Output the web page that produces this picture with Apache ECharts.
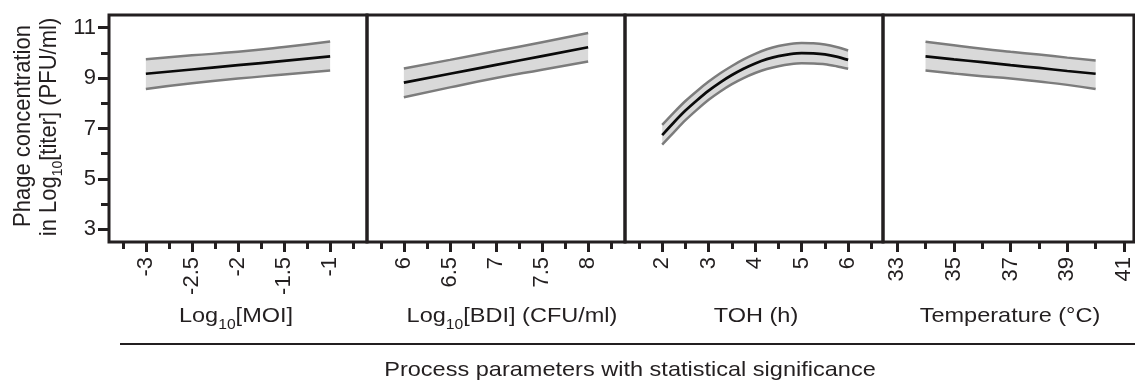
<!DOCTYPE html>
<html><head><meta charset="utf-8">
<script src="https://cdn.jsdelivr.net/npm/echarts@6/dist/echarts.min.js"></script>
<style>html,body{margin:0;padding:0;background:#fff}#c{width:1135px;height:380px}</style>
</head><body><div id="c"></div>
<script>
// ---------- data ----------
const yTicks = [3, 5, 7, 9, 11];
const yMinor = [4, 6, 8, 10];

const moiX = [-3, -2.5, -2, -1.5, -1];
const moiMean = [9.17, 9.34, 9.51, 9.68, 9.86];
const moiUpper = [9.75, 9.90, 10.04, 10.23, 10.45];
const moiLower = [8.57, 8.79, 8.98, 9.14, 9.30];
const moiTicks = [-3, -2.5, -2, -1.5, -1];
const moiMinor = [-3.25, -2.75, -2.25, -1.75, -1.25, -0.75];

const bdiX = [6, 6.5, 7, 7.5, 8];
const bdiMean = [8.82, 9.17, 9.52, 9.87, 10.22];
const bdiUpper = [9.38, 9.72, 10.07, 10.42, 10.79];
const bdiLower = [8.24, 8.63, 9.00, 9.33, 9.66];
const bdiTicks = [6, 6.5, 7, 7.5, 8];
const bdiMinor = [5.75, 6.25, 6.75, 7.25, 7.75, 8.25];

const tohX = [2, 2.25, 2.5, 2.75, 3, 3.25, 3.5, 3.75, 4, 4.25, 4.5, 4.75, 5, 5.25, 5.5, 5.75, 6];
const tohMean = [6.74, 7.24, 7.71, 8.12, 8.50, 8.83, 9.12, 9.37, 9.58, 9.75, 9.87, 9.95, 9.99, 9.98, 9.94, 9.85, 9.72];
const tohUpper = [7.14, 7.63, 8.09, 8.49, 8.86, 9.19, 9.48, 9.74, 9.96, 10.14, 10.27, 10.35, 10.39, 10.38, 10.33, 10.23, 10.09];
const tohLower = [6.36, 6.85, 7.33, 7.75, 8.14, 8.47, 8.76, 9.00, 9.20, 9.36, 9.47, 9.55, 9.59, 9.58, 9.55, 9.47, 9.37];
const tohTicks = [2, 3, 4, 5, 6];
const tohMinor = [1.5, 2.5, 3.5, 4.5, 5.5, 6.5];

const tempX = [34, 35, 36, 37, 38, 39, 40];
const tempMean = [9.86, 9.74, 9.63, 9.51, 9.40, 9.28, 9.17];
const tempUpper = [10.44, 10.30, 10.16, 10.04, 9.93, 9.81, 9.70];
const tempLower = [9.30, 9.18, 9.07, 8.98, 8.86, 8.73, 8.57];
const tempTicks = [33, 35, 37, 39, 41];
const tempMinor = [34, 36, 38, 40];

// ---------- chart ----------
const FONT = "'Liberation Sans', Arial, Helvetica, sans-serif";
const INK = '#231f20';
const panels = [
  {x: moiX, mean: moiMean, up: moiUpper, lo: moiLower, min: -3.4, max: -0.6, major: moiTicks, minor: moiMinor, smooth: true},
  {x: bdiX, mean: bdiMean, up: bdiUpper, lo: bdiLower, min: 5.6, max: 8.4, major: bdiTicks, minor: bdiMinor, smooth: true},
  {x: tohX, mean: tohMean, up: tohUpper, lo: tohLower, min: 1.2, max: 6.75, major: tohTicks, minor: tohMinor, smooth: 0.3},
  {x: tempX, mean: tempMean, up: tempUpper, lo: tempLower, min: 32.5, max: 41.35, major: tempTicks, minor: tempMinor, smooth: true}
];
const gridLeft = [109, 367, 625, 883];

const grid = gridLeft.map(l => ({left: l, top: 15, width: 258, height: 227, show: true,
  borderColor: INK, borderWidth: 3, backgroundColor: 'transparent'}));

const tickStyle = {color: INK, width: 3};
const xAxis = [];
panels.forEach((p, i) => {
  xAxis.push({gridIndex: i, type: 'value', position: 'bottom', min: p.min, max: p.max,
    axisLine: {show: false}, splitLine: {show: false},
    axisTick: {show: true, customValues: p.major, length: 10, lineStyle: tickStyle},
    axisLabel: {show: true, customValues: p.major, rotate: 90, margin: 15, fontSize: 22,
      fontFamily: FONT, color: INK}});
  xAxis.push({gridIndex: i, type: 'value', position: 'bottom', min: p.min, max: p.max,
    axisLine: {show: false}, splitLine: {show: false},
    axisTick: {show: true, customValues: p.minor, length: 7, lineStyle: tickStyle},
    axisLabel: {show: false}});
});

const yAxis = [
  {gridIndex: 0, type: 'value', position: 'left', min: 2.5, max: 11.5,
    axisLine: {show: false}, splitLine: {show: false},
    axisTick: {show: true, customValues: yTicks, length: 11, lineStyle: tickStyle},
    axisLabel: {show: true, customValues: yTicks, margin: 13, fontSize: 22, fontFamily: FONT, color: INK}},
  {gridIndex: 0, type: 'value', position: 'left', min: 2.5, max: 11.5,
    axisLine: {show: false}, splitLine: {show: false},
    axisTick: {show: true, customValues: yMinor, length: 8, lineStyle: tickStyle},
    axisLabel: {show: false}},
  {gridIndex: 1, type: 'value', min: 2.5, max: 11.5, show: false},
  {gridIndex: 2, type: 'value', min: 2.5, max: 11.5, show: false},
  {gridIndex: 3, type: 'value', min: 2.5, max: 11.5, show: false}
];
const yIdx = [0, 2, 3, 4];

const series = [];
panels.forEach((p, i) => {
  const xi = 2 * i, yi = yIdx[i];
  series.push({type: 'custom', xAxisIndex: xi, yAxisIndex: yi, silent: true, z: 1,
    data: p.x.map((x, k) => [x, p.lo[k], p.up[k]]),
    encode: {x: 0, y: [1, 2]},
    renderItem: (params, api) => {
      if (params.dataIndex !== 0) return null;
      const pts = [];
      for (let k = 0; k < p.x.length; k++) pts.push(api.coord([p.x[k], p.up[k]]));
      for (let k = p.x.length - 1; k >= 0; k--) pts.push(api.coord([p.x[k], p.lo[k]]));
      return {type: 'polygon', shape: {points: pts}, style: {fill: '#d9d9d9', stroke: null}};
    }});
  const mk = (arr, color, width, z) => ({type: 'line', xAxisIndex: xi, yAxisIndex: yi, silent: true,
    symbol: 'none', smooth: p.smooth, z: z, data: p.x.map((x, k) => [x, arr[k]]),
    lineStyle: {color: color, width: width}});
  series.push(mk(p.up, '#7c7c7c', 2.5, 2));
  series.push(mk(p.lo, '#7c7c7c', 2.5, 2));
  series.push(mk(p.mean, '#0a0a0a', 2.7, 3));
});

const mainRich = {fontSize: 21, fontFamily: FONT, fill: INK, color: INK, lineHeight: 23, verticalAlign: 'top'};
const subRich = {fontSize: 14, fontFamily: FONT, fill: INK, color: INK, lineHeight: 14, verticalAlign: 'top', padding: [12, 0, 0, 0]};
const xTitle = (x, text) => ({type: 'text', x: x, y: 306, scaleX: 1.12,
  style: {text: text, rich: {m: mainRich, s: subRich}, align: 'center', verticalAlign: 'top', fill: INK}});

const graphic = [
  {type: 'text', x: 23, y: 126, rotation: Math.PI / 2, scaleY: 1.08,
    style: {text: 'Phage concentration', fontSize: 22, fontFamily: FONT, fill: INK, align: 'center', verticalAlign: 'middle'}},
  {type: 'text', x: 50, y: 127, rotation: Math.PI / 2, scaleY: 1.08,
    style: {text: '{m|in Log}{s|10}{m|[titer] (PFU/ml)}', rich: {m: Object.assign({}, mainRich, {fontSize: 22}), s: subRich},
      align: 'center', verticalAlign: 'middle', fill: INK}},
  xTitle(236, '{m|Log}{s|10}{m|[MOI]}'),
  xTitle(512, '{m|Log}{s|10}{m|[BDI] (CFU/ml)}'),
  xTitle(756, '{m|TOH (h)}'),
  xTitle(1010, '{m|Temperature (°C)}'),
  {type: 'line', shape: {x1: 120, y1: 344, x2: 1135, y2: 344}, style: {stroke: INK, lineWidth: 2}},
  {type: 'text', x: 630, y: 370, scaleX: 1.12,
    style: {text: 'Process parameters with statistical significance', fontSize: 21, fontFamily: FONT, fill: INK,
      align: 'center', verticalAlign: 'middle'}}
];

const chart = echarts.init(document.getElementById('c'), null, {renderer: 'canvas'});
chart.setOption({animation: false, backgroundColor: '#fff', grid, xAxis, yAxis, series, graphic});
</script>
</body></html>
